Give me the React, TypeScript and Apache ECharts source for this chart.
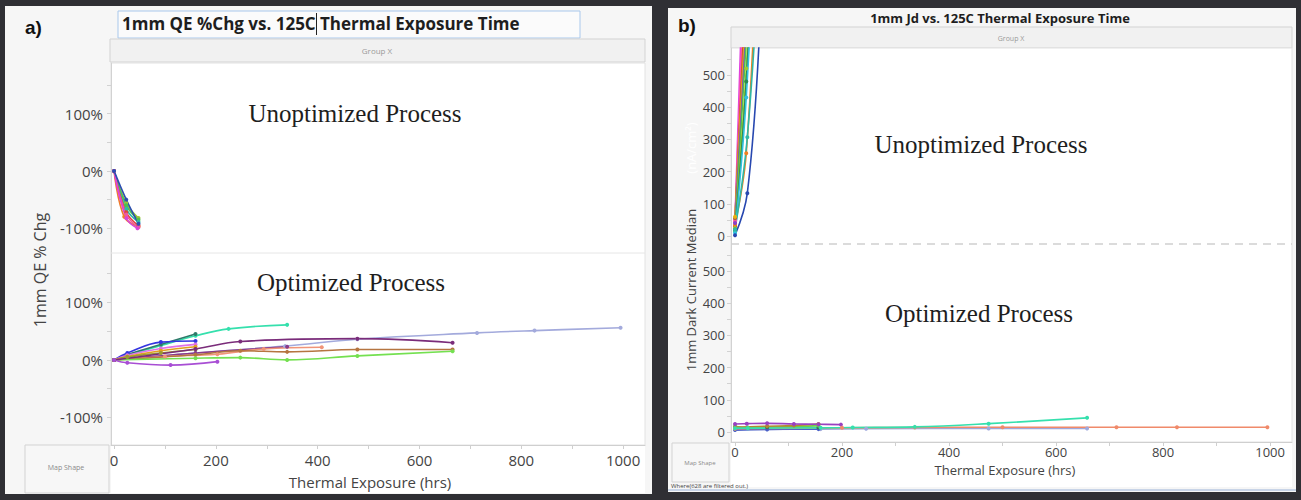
import React, { useEffect, useRef } from "react";
import * as echarts from "echarts";

// ---------- tick labels ----------
const X_TICKS = [0, 200, 400, 600, 800, 1000];
const X_MINOR = [0, 100, 200, 300, 400, 500, 600, 700, 800, 900, 1000];
const QE_TICKS = [-100, 0, 100];
const QE_MINOR = [-100, -50, 0, 50, 100, 150];
const JD_TICKS = [0, 100, 200, 300, 400, 500];
const JD_MINOR = [0, 50, 100, 150, 200, 250, 300, 350, 400, 450, 500, 550];

// ---------- panel a, unoptimized (QE % change) ----------
const qeUnBlue = [[0, 0], [24, -50], [48, -92]];
const qeUnOrange = [[0, 0], [20, -80], [48, -97]];
const qeUnGreen = [[0, 0], [24, -60], [48, -85]];
const qeUnTeal = [[0, 0], [24, -66], [48, -89]];
const qeUnPink = [[0, 0], [24, -76], [48, -98]];
const qeUnMagenta = [[0, 0], [24, -82], [46, -100]];
const qeUnOlive = [[0, 0], [24, -56], [48, -82]];
const qeUnRed = [[0, 0], [24, -72], [48, -95]];

// ---------- panel a, optimized (QE % change) ----------
const qeOpLavender = [[0, 0], [160, 12], [336, 24], [478, 36], [713, 47], [826, 51], [995, 56]];
const qeOpTeal = [[0, 0], [26, 8], [92, 25], [160, 42], [225, 54], [340, 61]];
const qeOpDarkTeal = [[0, 0], [26, 9], [92, 27], [160, 45]];
const qeOpBlue = [[0, 0], [26, 12], [92, 31], [160, 33]];
const qeOpPink = [[0, 0], [26, 8], [92, 20], [160, 27]];
const qeOpGold = [[0, 0], [26, 6], [92, 16], [160, 23]];
const qeOpOlive = [[0, 0], [26, 5], [92, 12], [160, 18]];
const qeOpPurple = [[0, 0], [160, 19], [248, 32], [478, 37], [665, 30]];
const qeOpPlum = [[0, 0], [160, 12], [340, 23]];
const qeOpSalmon = [[0, 0], [100, 6], [203, 10], [294, 19], [408, 22]];
const qeOpBrown = [[0, 0], [160, 9], [248, 16], [340, 14], [478, 18], [665, 18]];
const qeOpGreen = [[0, 0], [160, 3], [248, 4], [340, 0], [478, 7], [665, 15]];
const qeOpViolet = [[0, 0], [26, -5], [111, -9], [203, -3]];

// ---------- panel b, unoptimized (dark current) ----------
const jdUnBlue = [[0, 2], [23, 133], [46, 640]];
const jdUnTeal = [[0, 20], [23, 307], [46, 900]];
const jdUnOrange = [[0, 35], [21, 257], [42, 950]];
const jdUnMagenta = [[0, 50], [21, 1150]];
const jdUnPink = [[0, 45], [21, 950]];
const jdUnRed = [[0, 30], [21, 820]];
const jdUnGold = [[0, 60], [21, 720]];
const jdUnGreen = [[0, 15], [21, 610]];
const jdUnPurple = [[0, 40], [21, 660]];
const jdUnLime = [[0, 25], [21, 520], [42, 1250]];
const jdUnCyan = [[0, 10], [21, 430], [42, 1150]];
const jdUnDkGreen = [[0, 20], [21, 480], [42, 1200]];
const jdUnBrown = [[0, 55], [21, 760]];

// ---------- panel b, optimized (dark current) ----------
const jdOpTeal = [[0, 12], [24, 12], [160, 13], [220, 14], [336, 16], [474, 26], [658, 44]];
const jdOpSalmon = [[0, 10], [200, 13], [336, 14], [500, 15], [713, 15], [826, 15], [995, 15]];
const jdOpLavender = [[0, 8], [160, 9], [245, 10], [474, 11], [658, 11]];
const jdOpPurple = [[0, 25], [22, 26], [60, 27], [110, 25], [156, 24], [198, 23]];
const jdOpBrown = [[0, 15], [60, 18], [110, 20], [156, 25]];
const jdOpGreen = [[0, 18], [24, 14], [156, 20]];
const jdOpDark = [[0, 12], [60, 15], [156, 14]];
const jdOpBlue = [[0, 6], [60, 8], [156, 9]];

const FONT = "'Open Sans', 'Noto Sans', sans-serif";

function line(data: number[][], color: string, idx: number) {
  return {
    type: "line",
    xAxisIndex: idx,
    yAxisIndex: idx,
    data,
    smooth: 0.4,
    symbol: "circle",
    symbolSize: 4,
    lineStyle: { color, width: 1.6 },
    itemStyle: { color },
    clip: true,
    silent: true,
    z: 5,
  };
}

function xAxis(gridIndex: number, min: number, max: number, show: boolean, fontSize: number, margin: number) {
  return {
    type: "value",
    gridIndex,
    min,
    max,
    axisLine: { show, onZero: false, lineStyle: { color: "#cfcfcf" } },
    axisTick: { show, customValues: X_MINOR, length: 4, lineStyle: { color: "#cfcfcf" } },
    axisLabel: {
      show,
      customValues: X_TICKS,
      formatter: (v: number) => String(v),
      color: "#444",
      fontSize,
      fontFamily: FONT,
      margin,
    },
    splitLine: { show: false },
  };
}

function yAxis(gridIndex: number, min: number, max: number, labels: number[], minor: number[], pct: boolean, fontSize: number, margin: number) {
  return {
    type: "value",
    gridIndex,
    min,
    max,
    axisLine: { show: true, onZero: false, lineStyle: { color: "#d2d2d2" } },
    axisTick: { show: true, customValues: minor, length: 4, lineStyle: { color: "#d2d2d2" } },
    axisLabel: {
      customValues: labels,
      formatter: (v: number) => (pct ? v + "%" : String(v)),
      color: "#444",
      fontSize,
      fontFamily: FONT,
      margin,
    },
    splitLine: { show: false },
  };
}

function rect(x: number, y: number, w: number, h: number, fill: string, stroke?: string, z = -5) {
  return { type: "rect", z, silent: true, shape: { x, y, width: w, height: h }, style: { fill, stroke: stroke || null, lineWidth: 1 } };
}

function text(t: string, x: number, y: number, font: string, fill: string, align = "center", rot = 0, z = 20) {
  return {
    type: "text",
    z,
    silent: true,
    x,
    y,
    rotation: rot,
    style: { text: t, font, fill, align, verticalAlign: "middle" },
  };
}

function buildOption() {
  const serif = "25px 'Liberation Serif', 'DejaVu Serif', serif";
  return {
    animation: false,
    backgroundColor: "#2f2f34",
    grid: [
      { left: 111, top: 63, width: 534, height: 190 },
      { left: 111, top: 253, width: 534, height: 192 },
      { left: 731, top: 48, width: 561, height: 196 },
      { left: 731, top: 244, width: 561, height: 198 },
    ],
    xAxis: [
      xAxis(0, -6, 1043, false, 15, 7),
      xAxis(1, -6, 1043, true, 15, 7),
      xAxis(2, -7.5, 1041, false, 13, 3),
      xAxis(3, -7.5, 1041, true, 13, 3),
    ],
    yAxis: [
      yAxis(0, -143, 188, QE_TICKS, QE_MINOR, true, 15, 8),
      yAxis(1, -148, 186, QE_TICKS, QE_MINOR, true, 15, 8),
      yAxis(2, -25, 584, JD_TICKS, JD_MINOR, false, 13, 6),
      yAxis(3, -31, 584, JD_TICKS, JD_MINOR, false, 13, 6),
    ],
    graphic: {
      elements: [
        // panel a frame
        rect(5, 6, 647, 488, "#f6f6f6", undefined, -10),
        rect(118, 11, 462, 27, "#fbfbfb", "#a9c8ec"),
        rect(110, 39, 535, 23, "#f1f1f1", "#d3d3d3"),
        rect(111, 63, 534, 382, "#ffffff", "#e2e2e2"),
        rect(111, 446, 534, 47, "#ffffff", undefined),
        { type: "line", z: 1, silent: true, shape: { x1: 111, y1: 253, x2: 645, y2: 253 }, style: { stroke: "#e6e6e6", lineWidth: 1 } },
        rect(25, 445, 84, 48, "#f7f7f7", "#d3d3d3"),
        text("Map Shape", 66, 467, "7px 'Open Sans', sans-serif", "#8a8a8a"),
        text("a)", 25, 27, "bold 19px 'Liberation Sans', Arial, sans-serif", "#111", "left"),
        text("1mm QE %Chg vs. 125C", 122, 23, "bold 17px 'Open Sans', sans-serif", "#1e1e1e", "left"),
        rect(316, 13, 1, 22, "#222222", undefined, 5),
        text("Thermal Exposure Time", 320, 23, "bold 17px 'Open Sans', sans-serif", "#1e1e1e", "left"),
        text("Group X", 377, 50, "8px 'Open Sans', sans-serif", "#9a9a9a"),
        text("Unoptimized Process", 355, 113, serif, "#1e1e1e"),
        text("Optimized Process", 351, 282, serif, "#1e1e1e"),
        text("1mm QE % Chg", 40, 270, "16px 'Open Sans', sans-serif", "#444", "center", Math.PI / 2),
        text("Thermal Exposure (hrs)", 370, 482, "15px 'Open Sans', sans-serif", "#444"),

        // panel b frame
        rect(668, 8, 628, 484, "#f6f6f6", undefined, -10),
        { type: "line", z: 1, silent: true, shape: { x1: 668, y1: 490, x2: 1296, y2: 490 }, style: { stroke: "#b9c9e2", lineWidth: 1.5 } },
        rect(731, 27, 561, 21, "#f1f1f1", "#d3d3d3"),
        rect(731, 48, 561, 394, "#ffffff", "#e2e2e2"),
        rect(731, 443, 561, 44, "#ffffff", undefined),
        { type: "line", z: 1, silent: true, shape: { x1: 731, y1: 244, x2: 1292, y2: 244 }, style: { stroke: "#d0d0d0", lineWidth: 1.5, lineDash: [8, 6] } },
        rect(672, 443, 57, 39, "#f7f7f7", "#d3d3d3"),
        text("Map Shape", 700, 463, "6px 'Open Sans', sans-serif", "#8a8a8a"),
        text("Where(628 are filtered out.)", 671, 486, "6px 'Open Sans', sans-serif", "#444", "left"),
        text("b)", 678, 25, "bold 19px 'Liberation Sans', Arial, sans-serif", "#111", "left"),
        text("1mm Jd vs. 125C Thermal Exposure Time", 1000, 18, "bold 13px 'Open Sans', sans-serif", "#1e1e1e"),
        text("Group X", 1011, 38, "7px 'Open Sans', sans-serif", "#9a9a9a"),
        text("Unoptimized Process", 981, 144, serif, "#1e1e1e"),
        text("Optimized Process", 979, 313, serif, "#1e1e1e"),
        text("1mm Dark Current Median", 691, 290, "13px 'Open Sans', sans-serif", "#444", "center", Math.PI / 2),
        text("(nA/cm²)", 691, 148, "13px 'Open Sans', sans-serif", "#ffffff", "center", Math.PI / 2),
        text("Thermal Exposure (hrs)", 1005, 470, "13px 'Open Sans', sans-serif", "#444"),
      ],
    },
    series: [
      line(qeUnOlive, "#9cc23a", 0),
      line(qeUnGreen, "#4cc24c", 0),
      line(qeUnTeal, "#2fb8a8", 0),
      line(qeUnOrange, "#ef7d2a", 0),
      line(qeUnRed, "#e0443a", 0),
      line(qeUnPink, "#f05a9a", 0),
      line(qeUnMagenta, "#d845d8", 0),
      line(qeUnBlue, "#2c4fb0", 0),

      line(qeOpLavender, "#a3aadc", 1),
      line(qeOpTeal, "#35e0ad", 1),
      line(qeOpDarkTeal, "#2f7a6a", 1),
      line(qeOpBlue, "#3535e0", 1),
      line(qeOpPink, "#e070e8", 1),
      line(qeOpGold, "#e0a020", 1),
      line(qeOpOlive, "#9a9a30", 1),
      line(qeOpPlum, "#8a3a8a", 1),
      line(qeOpSalmon, "#f09478", 1),
      line(qeOpBrown, "#b57540", 1),
      line(qeOpGreen, "#74e050", 1),
      line(qeOpPurple, "#7a2c7a", 1),
      line(qeOpViolet, "#a84ed4", 1),

      line(jdUnMagenta, "#e040e0", 2),
      line(jdUnPink, "#ff5c9c", 2),
      line(jdUnRed, "#e03a30", 2),
      line(jdUnBrown, "#b06a30", 2),
      line(jdUnGold, "#e8b010", 2),
      line(jdUnOrange, "#f08020", 2),
      line(jdUnPurple, "#8a40c8", 2),
      line(jdUnGreen, "#50c050", 2),
      line(jdUnLime, "#9ccc30", 2),
      line(jdUnDkGreen, "#2a8a50", 2),
      line(jdUnCyan, "#30c0e0", 2),
      line(jdUnTeal, "#2fb8a8", 2),
      line(jdUnBlue, "#2848b0", 2),

      line(jdOpLavender, "#9fa8dc", 3),
      line(jdOpBlue, "#4a60c8", 3),
      line(jdOpDark, "#3a6a5a", 3),
      line(jdOpGreen, "#6ad04a", 3),
      line(jdOpBrown, "#b08a30", 3),
      line(jdOpPurple, "#9a40c0", 3),
      line(jdOpSalmon, "#f08a6a", 3),
      line(jdOpTeal, "#35e0ad", 3),
    ],
  };
}

export default function App() {
  const ref = useRef<HTMLDivElement>(null);
  useEffect(() => {
    if (!ref.current) return;
    const chart = echarts.init(ref.current, null, { renderer: "svg" });
    chart.setOption(buildOption() as any);
    return () => chart.dispose();
  }, []);
  return <div ref={ref} style={{ position: "fixed", left: 0, top: 0, width: 1301, height: 500 }} />;
}
